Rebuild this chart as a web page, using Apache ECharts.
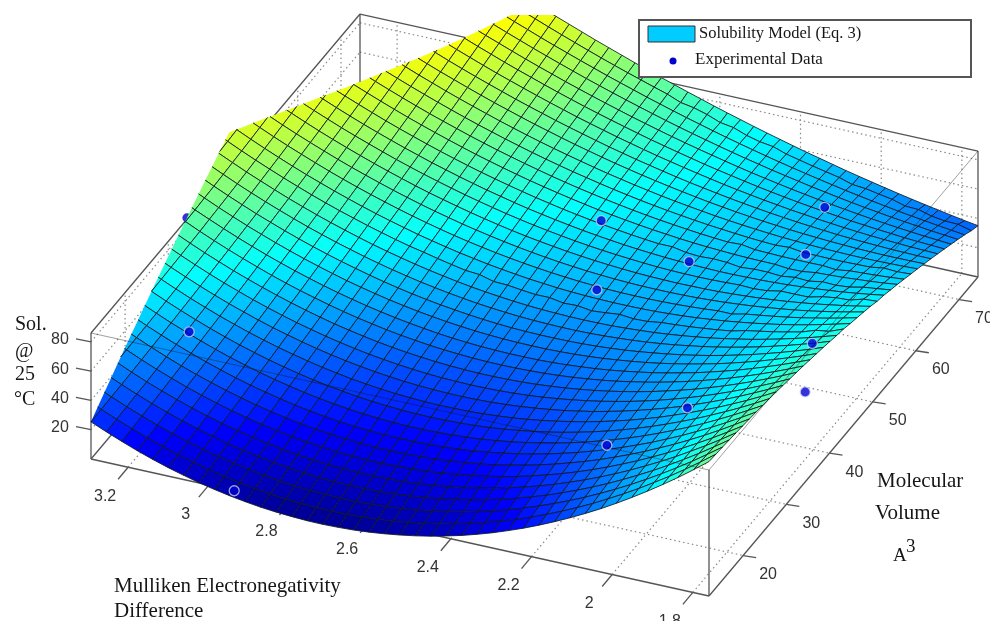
<!DOCTYPE html>
<html><head><meta charset="utf-8"><style>html,body{margin:0;background:#fff}#c{width:990px;height:621px}</style>
<script src="https://cdn.jsdelivr.net/npm/echarts@6/dist/echarts.min.js"></script></head><body><div id="c"></div><script>
const enTicks=[3.2,3,2.8,2.6,2.4,2.2,2,1.8];
const mvTicks=[20,30,40,50,60,70];
const solTicks=[20,40,60,80];
const enRange=[3.292,1.76], mvRange=[12.1,74.4], solRange=[0,86];
const expEN=[2.481,2.246,2.402,2.066,2.02,1.811,1.987,1.855,2.133,2.937,3.182];
const expMV=[54.5,52.9,46.1,67.5,58.8,40.8,28.3,43.25,23.3,12.1,24.56];
const expSol=[64,56,51,53,54,69,58,24.6,41,0,50];
const hidEN=[2.112,3.292], hidMV=[40.1,34.3], hidSol=[17.7,87];
const rowShift=[0,.0057,.0113,.0168,.0222,.0274,.0326,.0377,.0427,.0475,.0523,.0569,.0615,.0659,.0703,.0745,.0786,.0827,.0866,.0904,.0941,.0977,.1012,.1046,.1079,.1111,.1142,.1172,.1201,.1228,.1255,.1281,.1306,.1329,.1352,.1373,.1394,.1413,.1431,.1449,.1465];
const solWhole=[
[53,47,41,35,30,25,21,17,13,9,6,3,0,-2,-4,-6,-7,-8,-9,-9,-10,-9,-9,-8,-7,-5,-3,-1,1,4,7,10,14,18,23,27,32,38,43,49,56,62,69,76,84,92],
[56,50,44,39,34,29,24,20,16,13,10,7,4,2,0,-2,-3,-4,-5,-6,-6,-6,-5,-4,-3,-2,0,2,4,7,10,13,17,21,25,29,34,39,45,50,56,63,69,76,84,91],
[59,53,48,42,37,33,28,24,20,17,14,11,8,6,4,2,1,0,-1,-2,-2,-2,-1,-1,0,2,3,5,7,10,13,16,19,23,27,31,36,41,46,51,57,63,70,76,83,91],
[62,56,51,46,41,36,32,28,24,20,17,14,12,10,8,6,4,3,2,2,2,2,2,3,4,5,6,8,10,13,15,18,21,25,29,33,37,42,47,52,58,64,70,76,83,90],
[65,59,54,49,44,40,35,31,28,24,21,18,16,13,11,10,8,7,6,6,5,5,6,6,7,8,9,11,13,15,18,21,24,27,31,35,39,43,48,53,59,64,70,76,83,90],
[68,63,57,52,48,43,39,35,31,28,25,22,19,17,15,13,12,11,10,9,9,9,9,9,10,11,12,14,16,18,20,23,26,29,33,36,40,45,49,54,59,65,70,76,82,89],
[71,66,61,56,51,47,42,38,35,32,28,26,23,21,19,17,16,14,13,13,12,12,12,13,13,14,15,17,18,20,23,25,28,31,34,38,42,46,50,55,60,65,70,76,82,88],
[74,69,64,59,54,50,46,42,38,35,32,29,27,24,22,21,19,18,17,16,16,15,15,16,16,17,18,20,21,23,25,27,30,33,36,39,43,47,51,56,60,65,70,76,81,87],
[77,72,67,62,58,53,49,46,42,39,36,33,30,28,26,24,23,21,20,20,19,19,19,19,19,20,21,22,24,25,27,30,32,35,38,41,44,48,52,56,61,65,70,75,81,87],
[80,75,70,65,61,57,53,49,45,42,39,36,34,32,29,28,26,25,24,23,22,22,22,22,22,23,24,25,26,28,29,32,34,36,39,42,45,49,53,57,61,65,70,75,80,86],
[83,78,73,69,64,60,56,52,49,46,43,40,37,35,33,31,29,28,27,26,25,25,25,25,25,26,26,27,28,30,32,34,36,38,41,43,47,50,53,57,61,65,70,75,80,85],
[86,81,76,72,68,63,59,56,52,49,46,43,41,38,36,34,33,31,30,29,29,28,28,28,28,28,29,30,31,32,34,35,37,40,42,45,48,51,54,58,61,65,70,74,79,84],
[89,84,80,75,71,67,63,59,56,52,49,47,44,42,40,38,36,35,33,32,32,31,31,30,31,31,31,32,33,34,36,37,39,41,43,46,49,52,55,58,62,65,69,74,78,83],
[92,87,83,78,74,70,66,62,59,56,53,50,47,45,43,41,39,38,36,35,35,34,33,33,33,33,34,34,35,36,38,39,41,43,45,47,50,52,55,58,62,65,69,73,77,82],
[95,90,86,81,77,73,69,66,62,59,56,53,51,48,46,44,42,41,40,38,37,37,36,36,36,36,36,37,37,38,39,41,42,44,46,48,50,53,56,59,62,65,69,73,77,81],
[98,93,89,85,80,76,73,69,66,62,59,57,54,52,49,47,46,44,43,41,40,39,39,38,38,38,38,39,39,40,41,42,44,45,47,49,51,53,56,59,62,65,68,72,76,80],
[101,96,92,88,83,79,76,72,69,66,63,60,57,55,52,50,49,47,45,44,43,42,41,41,41,41,41,41,41,42,43,44,45,46,48,50,52,54,56,59,62,65,68,71,75,78],
[104,99,95,91,87,83,79,75,72,69,66,63,60,58,55,53,51,50,48,47,46,45,44,43,43,43,43,43,43,44,44,45,46,48,49,51,52,54,57,59,62,64,67,70,74,77],
[107,102,98,94,90,86,82,78,75,72,69,66,63,61,58,56,54,53,51,50,48,47,46,46,45,45,45,45,45,45,46,47,48,49,50,51,53,55,57,59,61,64,67,70,73,76],
[110,105,101,97,93,89,85,81,78,75,72,69,66,64,61,59,57,55,54,52,51,50,49,48,47,47,47,47,47,47,47,48,49,50,51,52,54,55,57,59,61,63,66,69,71,74],
[113,108,104,100,96,92,88,84,81,78,75,72,69,67,64,62,60,58,56,55,53,52,51,50,50,49,49,48,48,49,49,49,50,51,52,53,54,55,57,59,61,63,65,68,70,73],
[116,111,107,103,99,95,91,87,84,81,78,75,72,70,67,65,63,61,59,57,56,55,53,53,52,51,51,50,50,50,50,50,51,52,52,53,54,56,57,59,60,62,64,67,69,72],
[118,114,110,105,101,98,94,90,87,84,81,78,75,72,70,68,65,63,62,60,58,57,56,55,54,53,52,52,52,51,51,52,52,52,53,54,54,56,57,59,60,62,64,66,68,70],
[121,117,113,108,104,101,97,93,90,87,84,81,78,75,73,70,68,66,64,62,61,59,58,57,56,55,54,53,53,53,53,53,53,53,54,54,55,56,57,58,60,61,63,65,67,69],
[124,120,115,111,107,103,100,96,93,89,86,83,80,78,75,73,71,68,66,65,63,61,60,59,58,57,56,55,54,54,54,54,54,54,54,55,55,56,57,58,59,60,62,63,65,67],
[127,122,118,114,110,106,102,99,96,92,89,86,83,80,78,75,73,71,69,67,65,63,62,61,59,58,57,57,56,55,55,55,55,55,55,55,55,56,57,57,58,60,61,62,64,65],
[130,125,121,117,113,109,105,102,98,95,92,89,86,83,80,78,75,73,71,69,67,66,64,62,61,60,59,58,57,56,56,56,55,55,55,55,55,56,56,57,58,59,60,61,62,64],
[132,128,124,120,116,112,108,104,101,98,94,91,88,86,83,80,78,76,73,71,69,67,66,64,63,62,60,59,58,58,57,56,56,56,55,55,55,55,56,56,57,57,58,60,61,62],
[135,131,126,122,118,114,111,107,104,100,97,94,91,88,85,83,80,78,75,73,71,69,68,66,64,63,62,61,60,59,58,57,57,56,56,56,55,55,55,56,56,57,58,58,59,60],
[138,133,129,125,121,117,113,110,106,103,100,96,93,90,88,85,82,80,78,75,73,71,69,68,66,64,63,62,61,60,59,58,57,57,56,56,55,55,55,55,55,56,56,57,58,58],
[140,136,132,128,124,120,116,112,109,105,102,99,96,93,90,87,85,82,80,77,75,73,71,69,68,66,64,63,62,60,59,58,58,57,56,56,56,55,55,55,55,55,55,56,56,56],
[143,138,134,130,126,122,119,115,111,108,105,101,98,95,92,89,87,84,82,79,77,75,73,71,69,67,66,64,63,61,60,59,58,57,56,56,55,55,54,54,54,54,54,54,54,55],
[145,141,137,133,129,125,121,117,114,110,107,104,101,97,95,92,89,86,84,81,79,77,74,72,70,69,67,65,64,62,61,59,58,57,56,55,55,54,54,53,53,53,52,52,52,53],
[148,144,139,135,131,127,124,120,116,113,109,106,103,100,97,94,91,88,86,83,81,78,76,74,72,70,68,66,64,63,61,60,59,57,56,55,54,54,53,52,52,51,51,51,51,51],
[150,146,142,138,134,130,126,122,119,115,112,108,105,102,99,96,93,90,87,85,82,80,77,75,73,71,69,67,65,63,62,60,59,58,56,55,54,53,52,51,51,50,50,49,49,48],
[153,149,144,140,136,132,129,125,121,118,114,111,107,104,101,98,95,92,89,86,84,81,79,76,74,72,70,68,66,64,62,61,59,58,56,55,54,52,51,50,50,49,48,47,47,46],
[155,151,147,143,139,135,131,127,123,120,116,113,109,106,103,100,97,94,91,88,85,83,80,78,75,73,71,69,67,65,63,61,59,58,56,55,53,52,51,49,48,47,46,46,45,44],
[158,153,149,145,141,137,133,129,126,122,118,115,112,108,105,102,99,96,93,90,87,84,82,79,76,74,72,69,67,65,63,61,59,58,56,54,53,51,50,48,47,46,45,44,43,42],
[160,156,152,148,143,139,136,132,128,124,121,117,114,110,107,104,100,97,94,91,88,86,83,80,78,75,73,70,68,66,63,61,59,57,56,54,52,50,49,47,46,44,43,42,41,40],
[162,158,154,150,146,142,138,134,130,126,123,119,116,112,109,105,102,99,96,93,90,87,84,81,79,76,73,71,68,66,64,61,59,57,55,53,51,50,48,46,44,43,41,40,39,37],
[165,161,156,152,148,144,140,136,132,129,125,121,118,114,111,107,104,101,97,94,91,88,85,82,80,77,74,71,69,66,64,62,59,57,55,53,51,49,47,45,43,41,40,38,36,35]
];
const solTenths=[
"4349783115236336225092768312745977188177065732",
"4473249894126336214989423744743610275618828817",
"5607706572015225102756077065720163362138671892",
"5720152149893003989422521386607694348558324866",
"6954607817571881756187054595572115213867066720",
"6077053473249668423632486694347435078165607683",
"7200408930915325088276717682992745832363137446",
"7323743596572991633619928660645853585450667299",
"7446188041138546188041138546188041137446077930",
"8669422496683091621373237312619038669422496572",
"8781756841138546964594235087941015190397794113",
"8893089285582989397705213732361981521251992743",
"8815212619916212518804190385571756830015199263",
"8927445953359545729903966828770410140768286683",
"8938668275582867930892632361878164348311262002",
"7930880408804088040779397782865717446953248310",
"7940992620025198039656941003742359533584213618",
"6941003731137298927422484223618781519915087816",
"5941014842247298815188927422484101495335841003",
"4841124953347297792743359521249522360754694199",
"2731125953347177556939778151990373112596334718",
"1620014953236053225841901507556940889262989261",
"9419914842124830880384212483099149532360521136",
"7308803731002507445716311259521136175457052001",
"5187781629889273099038410025953123617433583965",
"2865579407556938532359408780373101484199037295",
"0642347174222583975570496434694075579385322472",
"7310025941988037308789373087880384199250631124",
"3087792617544571629889149520002505209014830767",
"0754468273099914941877915952100259418778038308",
"6310024839643357151866670384198902617421135949",
"2976780484087779261853234705185445705064212460",
"8532236938520901371630888026052987892606208890",
"3087891482853212460506422235938419889137284200",
"8533335826285433468272964445793830765568150529",
"3087780250517543346938397543468150631989024838",
"7532123692739643234692728532112470506309889036",
"2976567915940642101247049529766680260518543234",
"6310990247151631987890360506319889024827296421",
"9743223469261629643345704839529876780259394185",
"3086555680360517319766780259384075311123581595"
];
const sol=solWhole.map((row,j)=>row.map((x,i)=>x+(Number(solTenths[j][i]||'5')-4.5)/10));
const N=40,OFF=5;
const cutG=[c=>c[2]-(101.6+18.4*c[1]),c=>-c[0]];
function uv(en,mv){return [(enRange[0]-en)/(enRange[0]-enRange[1]),(mv-mvRange[0])/(mvRange[1]-mvRange[0])];}
function pUV(u,v,s){return [91+618*u+269*v,459+137*u-319*v-1.465*s];}
function project(en,mv,s){const [u,v]=uv(en,mv);return pUV(u,v,s);}
const [E0,E1]=enRange,[M0,M1]=mvRange,S1=solRange[1];
function seg(a,b){const p=project(...a),q=project(...b);return [p[0],p[1],q[0],q[1]];}
const dotted=[];
enTicks.forEach(e=>{dotted.push(seg([e,M0,0],[e,M1,0]));dotted.push(seg([e,M1,0],[e,M1,S1]));});
mvTicks.forEach(m=>{dotted.push(seg([E0,m,0],[E1,m,0]));dotted.push(seg([E0,m,0],[E0,m,S1]));});
solTicks.forEach(s=>{dotted.push(seg([E0,M1,s],[E1,M1,s]));dotted.push(seg([E0,M0,s],[E0,M1,s]));});
const boxBack=[seg([E0,M0,0],[E1,M0,0]),seg([E1,M0,0],[E1,M1,0]),seg([E0,M0,0],[E0,M1,0]),seg([E0,M1,0],[E1,M1,0]),
 seg([E0,M0,0],[E0,M0,S1]),seg([E1,M0,0],[E1,M0,S1]),seg([E1,M1,0],[E1,M1,S1]),seg([E0,M1,0],[E0,M1,S1]),
 seg([E0,M0,S1],[E0,M1,S1]),seg([E0,M1,S1],[E1,M1,S1])];
enTicks.forEach(e=>{const p=project(e,M0,0);boxBack.push([p[0],p[1],p[0]-10,p[1]+12]);});
mvTicks.forEach(m=>{const p=project(E1,m,0);boxBack.push([p[0],p[1],p[0]+13,p[1]+2]);});
solTicks.forEach(s=>{const p=project(E0,M0,s);boxBack.push([p[0],p[1],p[0]-15,p[1]-3]);});
const topFront=[seg([E0,M0,S1],[E1,M0,S1]),seg([E1,M0,S1],[E1,M1,S1])];
const labels=[];
enTicks.forEach(e=>{const p=project(e,M0,0);labels.push([p[0]-23,p[1]+29,String(e)]);});
mvTicks.forEach(m=>{const p=project(E1,m,0);labels.push([p[0]+25,p[1]+19,String(m)]);});
solTicks.forEach(s=>{const p=project(E0,M0,s);labels.push([p[0]-31,p[1]-2,String(s)]);});
function vert(i,j){const s=(i-OFF)/N;return [s+(1-s)*rowShift[j],j/N,sol[j][i]];}
const cells=[];
for(let j=N-1;j>=0;j--)for(let i=0;i<N+OFF;i++){cells.push([i,j,(sol[j][i]+sol[j][i+1]+sol[j+1][i]+sol[j+1][i+1])/4]);}
function lineRender(stroke,w,dash,op){return (p,api)=>{const a=api.coord([api.value(0),api.value(1)]),b=api.coord([api.value(2),api.value(3)]);
 return {type:'line',shape:{x1:a[0],y1:a[1],x2:b[0],y2:b[1]},style:{stroke,lineWidth:w,lineDash:dash,opacity:op,fill:null}};};}
function clipSeg(a,b){for(const g of cutG){const ga=g(a),gb=g(b);if(ga>0&&gb>0)return null;if(ga<=0&&gb<=0)continue;
 const t=ga/(ga-gb),m=[a[0]+(b[0]-a[0])*t,a[1]+(b[1]-a[1])*t,a[2]+(b[2]-a[2])*t];if(ga>0)a=m;else b=m;}return [a,b];}
function clipPoly(P){for(const g of cutG){const o=[];for(let k=0;k<P.length;k++){const a=P[k],b=P[(k+1)%P.length],ga=g(a),gb=g(b);
 if(ga<=0)o.push(a);if((ga>0)!==(gb>0)){const t=ga/(ga-gb);o.push([a[0]+(b[0]-a[0])*t,a[1]+(b[1]-a[1])*t,a[2]+(b[2]-a[2])*t]);}}P=o;if(!P.length)return P;}return P;}
const meshColor='#101820',meshW=0.85;
function renderCell(p,api){
 const i=api.value(0),j=api.value(1);
 const C=[[i,j],[i+1,j],[i+1,j+1],[i,j+1]].map(q=>vert(q[0],q[1]));
 const toXY=c=>api.coord(pUV(c[0],c[1],c[2]));
 const color=api.visual('color');
 const nOver=C.filter(c=>cutG.some(g=>g(c)>0)).length;
 if(nOver===0)return {type:'polygon',shape:{points:C.map(toXY)},style:{fill:color,stroke:meshColor,lineWidth:meshW}};
 const poly=clipPoly(C);if(poly.length<3)return null;
 const kids=[{type:'polygon',shape:{points:poly.map(toXY)},style:{fill:color}}];
 for(let k=0;k<4;k++){const e=clipSeg(C[k],C[(k+1)%4]);if(e){const a=toXY(e[0]),b=toXY(e[1]);kids.push({type:'line',shape:{x1:a[0],y1:a[1],x2:b[0],y2:b[1]},style:{stroke:meshColor,lineWidth:meshW}});}}
 return {type:'group',children:kids};
}
const serif='"Liberation Serif",serif';
function txt(text,x,y,size,extra){return Object.assign({type:'text',z:60,style:{text,x,y,fill:'#161616',font:size+'px '+serif,verticalAlign:'middle'}},extra||{});}
const chart=echarts.init(document.getElementById('c'),null,{renderer:'canvas'});
chart.setOption({animation:false,backgroundColor:'#fff',
 grid:{left:0,right:0,top:15,bottom:0},
 xAxis:{type:'value',min:0,max:990,show:false},yAxis:{type:'value',min:15,max:621,inverse:true,show:false},
 visualMap:{show:false,seriesIndex:3,dimension:2,min:-9.5,max:195.5,inRange:{color:['#00008f','#0000ff','#007fff','#00ffff','#7fff7f','#ffff00','#ff7f00','#ff0000','#800000']}},
 graphic:[
  txt('Sol.',15,325,20),txt('@',15,352,20),txt('25',15,375,20),txt('°C',14,400,20),
  txt('Molecular',877,481,21),txt('Volume',875,513,21),txt('A',893,556,19),txt('3',906,547,19),
  txt('Mulliken Electronegativity',114,586,21),txt('Difference',114,611,21),
  {type:'rect',z:60,shape:{x:639,y:20,width:332,height:57},style:{fill:'#fff',stroke:'#555',lineWidth:2}},
  {type:'rect',z:61,shape:{x:648,y:26,width:47,height:16},style:{fill:'#00ccff',stroke:'#333',lineWidth:1}},
  {type:'circle',z:61,shape:{cx:673,cy:61,r:3.5},style:{fill:'#0000cc'}},
  txt('Solubility Model (Eq. 3)',699,34,16.5,{z:61}),txt('Experimental Data',695,60,17,{z:61})
 ],
 series:[
  {type:'custom',z:1,silent:true,data:dotted,renderItem:lineRender('#8a8a8a',1.2,[1.5,3],1)},
  {type:'custom',z:1,silent:true,data:boxBack,renderItem:lineRender('#555',1.3,null,1)},
  {type:'scatter',z:2,silent:true,symbolSize:9,itemStyle:{color:'#0000cc'},data:hidEN.map((e,k)=>project(e,hidMV[k],hidSol[k]))},
  {type:'custom',z:3,silent:true,clip:true,data:cells,dimensions:['i','j','z'],encode:{x:0,y:1},renderItem:renderCell,progressive:0,animation:false},
  {type:'custom',z:4,silent:true,data:topFront,renderItem:lineRender('#111',1,null,0.4)},
  {type:'scatter',z:5,silent:true,symbolSize:10,itemStyle:{color:'#0000d2',borderColor:'rgba(215,220,245,0.9)',borderWidth:1.3},data:expEN.map((e,k)=>project(e,expMV[k],expSol[k]))},
  {type:'custom',z:5,silent:true,data:labels,renderItem:(p,api)=>{const a=api.coord([api.value(0),api.value(1)]);return {type:'text',style:{text:labels[p.dataIndex][2],x:a[0],y:a[1],fill:'#333',font:'16px "Liberation Sans",Arial',align:'center',verticalAlign:'middle'}};}}
 ]});
</script></body></html>
